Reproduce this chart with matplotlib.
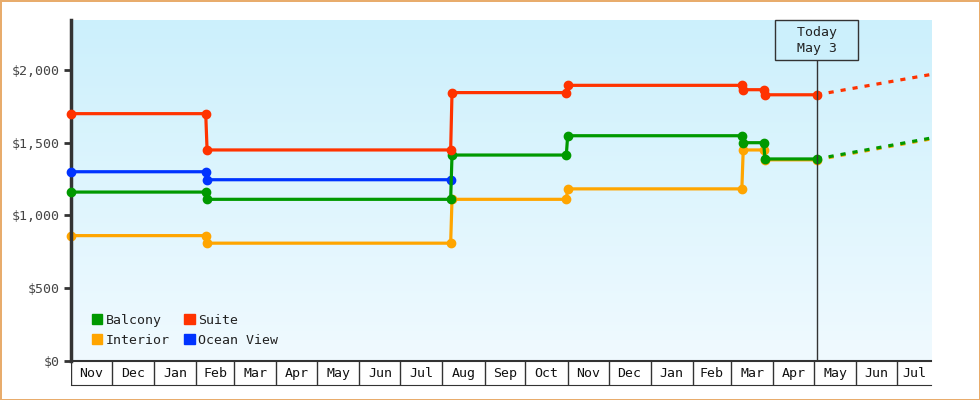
import matplotlib
matplotlib.use('Agg')
import matplotlib.pyplot as plt
import matplotlib.dates as mdates
from matplotlib.colors import LinearSegmentedColormap
from matplotlib.patches import Patch
import numpy as np
import pandas as pd

plt.rcParams['font.family'] = ['DejaVu Sans Mono']
plt.rcParams['font.size'] = 9.5

# price history, one point per recorded change
change_dates = ['2017-11-01', '2018-02-08', '2018-02-09', '2018-08-07', '2018-08-08',
                '2018-10-31', '2018-11-01', '2019-03-09', '2019-03-10', '2019-03-25',
                '2019-03-26', '2019-05-03']
balcony = [1160, 1160, 1110, 1110, 1415, 1415, 1548, 1548, 1500, 1500, 1388, 1388]
interior = [860, 860, 808, 808, 1110, 1110, 1182, 1182, 1450, 1450, 1382, 1382]
suite = [1700, 1700, 1450, 1450, 1845, 1845, 1895, 1895, 1865, 1865, 1830, 1830]

ocean_dates = ['2017-11-01', '2018-02-08', '2018-02-09', '2018-08-07']
ocean_view = [1300, 1300, 1245, 1245]

# forecast from today to end of range
forecast_dates = ['2019-05-03', '2019-07-26']
balcony_fc = [1388, 1532]
interior_fc = [1382, 1526]
suite_fc = [1830, 1970]

today = '2019-05-03'
today_label = '  Today  \n  May 3  '
y_ticks = [0, 500, 1000, 1500, 2000]
y_max = 2345

colors = {'Balcony': '#009900', 'Interior': '#ffa500', 'Suite': '#ff3300', 'Ocean View': '#0033ff'}


def to_num(ds):
    return mdates.date2num(pd.to_datetime(ds))


fig = plt.figure(figsize=(9.8, 4), dpi=100)
fig.patch.set_facecolor('white')
fig.patch.set_edgecolor('#e8ac6c')
fig.patch.set_linewidth(2)

ax = fig.add_axes([71 / 980, 39.5 / 400, 860 / 980, 340.5 / 400])
x0 = to_num(change_dates[0])
x1 = to_num(forecast_dates[-1])
ax.set_xlim(x0, x1)
ax.set_ylim(0, y_max)

# background gradient
cmap = LinearSegmentedColormap.from_list('bg', ['#f0faff', '#ccf0fc'])
grad = np.linspace(0, 1, 256).reshape(-1, 1)
ax.imshow(grad, extent=[0, 1, 0, 1], transform=ax.transAxes, cmap=cmap,
          aspect='auto', origin='lower', zorder=0)

series = [
    ('Interior', change_dates, interior, interior_fc, 2),
    ('Ocean View', ocean_dates, ocean_view, None, 3),
    ('Balcony', change_dates, balcony, balcony_fc, 4),
    ('Suite', change_dates, suite, suite_fc, 5),
]
for name, ds, vals, fc, z in series:
    c = colors[name]
    ax.plot(to_num(ds), vals, color=c, lw=2.3, marker='o', ms=6, zorder=z, clip_on=False)
    if fc is not None:
        ax.plot(to_num(forecast_dates), fc, color=c, lw=2.3, linestyle=(0, (1.6, 2.2)), zorder=z)

# today marker
t = to_num(today)
ax.axvline(t, color='#333333', lw=1, zorder=6)
ax.annotate(today_label, xy=(t, 1), xycoords=('data', 'axes fraction'),
            xytext=(0, -4), textcoords='offset points',
            ha='center', va='top', color='#222222', zorder=7,
            linespacing=1.3, fontsize=9.5, annotation_clip=False,
            bbox=dict(boxstyle='square,pad=0.4', fc='#ccf0fc', ec='#333333', lw=1))

for s in ['top', 'right']:
    ax.spines[s].set_visible(False)
ax.spines['left'].set_linewidth(2.5)
ax.spines['left'].set_color('#333333')
ax.spines['bottom'].set_linewidth(1.5)
ax.spines['bottom'].set_color('#333333')
ax.set_yticks(y_ticks)
ax.set_yticklabels(['${:,}'.format(v) for v in y_ticks])
ax.tick_params(axis='y', length=5, width=2, color='#333333', labelcolor='#444444', pad=3)
ax.set_xticks([])

handles = [Patch(color=colors[n]) for n in ['Balcony', 'Interior', 'Suite', 'Ocean View']]
ax.legend(handles, ['Balcony', 'Interior', 'Suite', 'Ocean View'], ncol=2,
          loc='lower left', bbox_to_anchor=(0.024, 0.04), frameon=False,
          handlelength=0.8, handleheight=0.8, handletextpad=0.25, columnspacing=1.1,
          labelspacing=0.55, borderpad=0, borderaxespad=0, fontsize=9.5,
          labelcolor='#222222')

# month band under the plot
band = fig.add_axes([71 / 980, 15 / 400, 860 / 980, 24.5 / 400], sharex=ax)
band.set_ylim(0, 1)
band.patch.set_alpha(0)
for s in ['left', 'right']:
    band.spines[s].set_visible(False)
band.spines['bottom'].set_color('#333333')
band.spines['top'].set_visible(False)
band.tick_params(left=False, bottom=False, labelleft=False, labelbottom=False)
months = pd.date_range('2017-11-01', '2019-08-01', freq='MS')
for m0, m1 in zip(months[:-1], months[1:]):
    a = mdates.date2num(m0)
    b = min(mdates.date2num(m1), x1)
    band.axvline(a, color='#333333', lw=1)
    band.text((a + b) / 2, 0.45, m0.strftime('%b'), ha='center', va='center',
              fontsize=9.5, color='#111111')
band.set_xlim(x0, x1)

fig.savefig('out.png', dpi=100, facecolor=fig.get_facecolor(), edgecolor=fig.get_edgecolor())
